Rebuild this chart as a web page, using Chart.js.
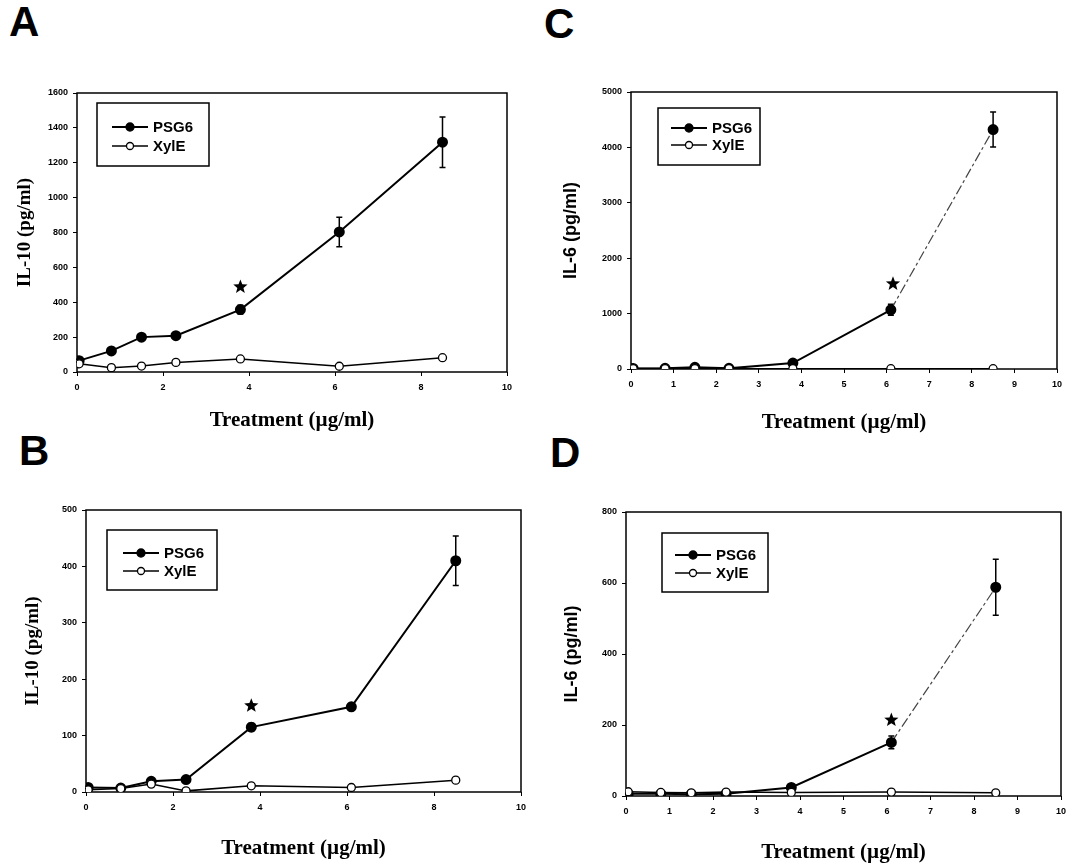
<!DOCTYPE html>
<html lang="en">
  <head>
    <meta charset="utf-8" />
    <title>IL-10 and IL-6 response to PSG6</title>
    <style>
      body {
        margin: 0;
        background-color: white;
      }
      #wrap {
        position: relative;
        width: 1074px;
        height: 868px;
      }
      .panel {
        position: absolute;
      }
      .tag {
        position: absolute;
        font: bold 42px "Liberation Sans", Arial, sans-serif;
        color: black;
        line-height: 1;
      }
    </style>
  </head>
  <body>
    <div id="wrap">
      <div class="tag" style="left: 9px; top: 1px">A</div>
      <div class="tag" style="left: 544px; top: 3px">C</div>
      <div class="tag" style="left: 19px; top: 430px">B</div>
      <div class="tag" style="left: 550px; top: 432px">D</div>
      <canvas id="chartA" class="panel" width="537" height="385" style="left: 0; top: 50px"></canvas>
      <canvas id="chartC" class="panel" width="537" height="385" style="left: 537px; top: 50px"></canvas>
      <canvas id="chartB" class="panel" width="537" height="433" style="left: 0; top: 435px"></canvas>
      <canvas id="chartD" class="panel" width="537" height="433" style="left: 537px; top: 435px"></canvas>
    </div>

    <script src="https://cdn.jsdelivr.net/npm/chart.js"></script>
    <script>
      // treatment doses (ug/ml), same for every panel
      const doses = [0.05, 0.8, 1.5, 2.3, 3.8, 6.1, 8.5];

      // A: IL-10 (pg/ml)
      const psg6A = [65, 121, 200, 208, 358, 803, 1318];
      const psg6ErrA = [8, 10, 12, 12, 25, 85, 145];
      const xyleA = [47, 25, 34, 55, 75, 33, 82];
      const starA = { x: 3.8, y: 488 };

      // C: IL-6 (pg/ml)
      const psg6C = [10, 12, 30, 12, 108, 1068, 4322];
      const psg6ErrC = [5, 5, 10, 5, 30, 100, 315];
      const xyleC = [8, 8, 8, 6, 6, 6, 6];
      const starC = { x: 6.15, y: 1537 };

      // B: IL-10 (pg/ml)
      const psg6B = [8, 7, 19, 22, 115, 151, 410];
      const psg6ErrB = [2, 2, 3, 4, 7, 6, 44];
      const xyleB = [4, 6, 14, 2, 11, 8, 21];
      const starB = { x: 3.8, y: 153 };

      // D: IL-6 (pg/ml)
      const psg6D = [6, 6, 5, 6, 24, 151, 588];
      const psg6ErrD = [2, 2, 2, 2, 5, 18, 79];
      const xyleD = [12, 10, 9, 11, 10, 11, 9];
      const starD = { x: 6.1, y: 214 };

      const pairs = (xs, ys) => xs.map((x, i) => ({ x, y: ys[i] }));

      function drawStar(ctx, cx, cy, outer, inner) {
        ctx.beginPath();
        for (let i = 0; i < 10; i++) {
          const r = i % 2 === 0 ? outer : inner;
          const a = -Math.PI / 2 + (i * Math.PI) / 5;
          const px = cx + r * Math.cos(a);
          const py = cy + r * Math.sin(a);
          if (i === 0) ctx.moveTo(px, py);
          else ctx.lineTo(px, py);
        }
        ctx.closePath();
        ctx.fill();
      }

      // frame, error bars, star and boxed legend
      const panelDeco = {
        id: "panelDeco",
        beforeDatasetsDraw(chart, args, opts) {
          const { ctx, chartArea: ca, scales } = chart;
          ctx.save();
          ctx.strokeStyle = "#000";
          ctx.lineWidth = 1.5;
          ctx.strokeRect(ca.left, ca.top, ca.right - ca.left, ca.bottom - ca.top);

          ctx.lineWidth = 1.5;
          chart.data.datasets.forEach((ds) => {
            if (!ds.errors) return;
            ds.data.forEach((p, i) => {
              const e = ds.errors[i];
              const x = scales.x.getPixelForValue(p.x);
              const yt = scales.y.getPixelForValue(p.y + e);
              const yb = scales.y.getPixelForValue(p.y - e);
              ctx.beginPath();
              ctx.moveTo(x, yt);
              ctx.lineTo(x, yb);
              ctx.moveTo(x - 3, yt);
              ctx.lineTo(x + 3, yt);
              ctx.moveTo(x - 3, yb);
              ctx.lineTo(x + 3, yb);
              ctx.stroke();
            });
          });
          ctx.restore();
        },
        afterDatasetsDraw(chart, args, opts) {
          const { ctx, chartArea: ca, scales } = chart;
          ctx.save();
          ctx.fillStyle = "#000";
          drawStar(
            ctx,
            scales.x.getPixelForValue(opts.star.x),
            scales.y.getPixelForValue(opts.star.y),
            7.5,
            3.2
          );

          const lg = opts.legend;
          const bx = ca.left + lg.left;
          const by = ca.top + lg.top;
          ctx.fillStyle = "#fff";
          ctx.fillRect(bx, by, lg.width, lg.height);
          ctx.strokeStyle = "#000";
          ctx.lineWidth = 1.5;
          ctx.strokeRect(bx, by, lg.width, lg.height);

          const items = [chart.data.datasets[1], chart.data.datasets[0]];
          ctx.font = "bold 15px 'Liberation Sans', Arial, sans-serif";
          ctx.textBaseline = "middle";
          items.forEach((ds, i) => {
            const y = by + lg.row0 + i * lg.rowGap;
            const x0 = bx + lg.lineStart;
            ctx.strokeStyle = "#000";
            ctx.lineWidth = ds.borderWidth;
            ctx.beginPath();
            ctx.moveTo(x0, y);
            ctx.lineTo(x0 + 36, y);
            ctx.stroke();
            ctx.beginPath();
            ctx.arc(x0 + 18, y, ds.pointRadius - 0.5, 0, Math.PI * 2);
            ctx.fillStyle = ds.pointBackgroundColor;
            ctx.fill();
            ctx.lineWidth = 1.3;
            ctx.stroke();
            ctx.fillStyle = "#000";
            ctx.fillText(ds.label, x0 + 41, y + 1);
          });
          ctx.restore();
        },
      };
      Chart.register(panelDeco);

      function makePanel(id, cfg) {
        const fade = (ctx, on, off) =>
          cfg.fadeLast && ctx.p0DataIndex === doses.length - 2 ? on : off;
        return new Chart(document.getElementById(id), {
          type: "line",
          data: {
            datasets: [
              {
                label: "XylE",
                data: pairs(doses, cfg.xyle),
                borderColor: "#000",
                borderWidth: 1.5,
                pointRadius: 4,
                pointBackgroundColor: "#fff",
                pointBorderColor: "#000",
                pointBorderWidth: 1.3,
                order: 0,
              },
              {
                label: "PSG6",
                data: pairs(doses, cfg.psg6),
                errors: cfg.err,
                borderColor: "#000",
                borderWidth: 2,
                pointRadius: 4.5,
                pointBackgroundColor: "#000",
                pointBorderColor: "#000",
                order: 1,
                segment: {
                  borderColor: (ctx) => fade(ctx, "#444", undefined),
                  borderWidth: (ctx) => fade(ctx, 1.2, undefined),
                  borderDash: (ctx) => fade(ctx, [10, 3, 3, 3], undefined),
                },
              },
            ],
          },
          options: {
            responsive: false,
            animation: false,
            devicePixelRatio: 1,
            layout: { padding: cfg.pad },
            scales: {
              x: {
                type: "linear",
                min: 0,
                max: 10,
                border: { display: false },
                grid: { drawOnChartArea: false, tickLength: 4, color: "#000" },
                ticks: {
                  stepSize: cfg.xStep,
                  padding: 6,
                  color: "#000",
                  font: { family: "Liberation Sans", size: 9, weight: "bold" },
                  callback: (v) => String(v),
                },
                title: {
                  display: true,
                  text: "Treatment (\u00b5g/ml)",
                  color: "#000",
                  padding: { top: 0, bottom: cfg.xTitlePad },
                  font: { family: "Liberation Serif", size: 21, weight: "bold" },
                },
                afterFit: (s) => {
                  s.height = cfg.xH;
                },
              },
              y: {
                min: 0,
                max: cfg.yMax,
                border: { display: false },
                grid: { drawOnChartArea: false, tickLength: 4, color: "#000" },
                ticks: {
                  stepSize: cfg.yStep,
                  padding: 5,
                  color: "#000",
                  font: { family: "Liberation Sans", size: 9, weight: "bold" },
                  callback: (v) => String(v),
                },
                title: {
                  display: true,
                  text: cfg.yTitle,
                  color: "#000",
                  padding: 0,
                  font: cfg.yFont,
                },
                afterFit: (s) => {
                  s.width = cfg.yW;
                },
              },
            },
            plugins: {
              legend: { display: false },
              tooltip: { enabled: false },
              panelDeco: { star: cfg.star, legend: cfg.legend },
            },
          },
        });
      }

      const serifTitle = { family: "Liberation Serif", size: 19, weight: "bold" };
      const sansTitle = { family: "Liberation Sans", size: 18, weight: "bold" };

      makePanel("chartA", {
        psg6: psg6A, err: psg6ErrA, xyle: xyleA, star: starA,
        yMax: 1600, yStep: 200, xStep: 2,
        yTitle: "IL-10 (pg/ml)", yFont: serifTitle,
        pad: { left: 14, top: 43, right: 30, bottom: 0 },
        yW: 63, xH: 63, xTitlePad: 2,
        legend: { left: 20, top: 10, width: 112, height: 63, row0: 24, rowGap: 19, lineStart: 15 },
      });
      makePanel("chartC", {
        psg6: psg6C, err: psg6ErrC, xyle: xyleC, star: starC, fadeLast: true,
        yMax: 5000, yStep: 1000, xStep: 1,
        yTitle: "IL-6 (pg/ml)", yFont: sansTitle,
        pad: { left: 23, top: 42, right: 17, bottom: 0 },
        yW: 71, xH: 66, xTitlePad: 0,
        legend: { left: 27, top: 16, width: 102, height: 57, row0: 20, rowGap: 17, lineStart: 13 },
      });
      makePanel("chartB", {
        psg6: psg6B, err: psg6ErrB, xyle: xyleB, star: starB,
        yMax: 500, yStep: 100, xStep: 2,
        yTitle: "IL-10 (pg/ml)", yFont: serifTitle,
        pad: { left: 22, top: 75, right: 16, bottom: 0 },
        yW: 64, xH: 76, xTitlePad: 7,
        legend: { left: 21, top: 20, width: 110, height: 60, row0: 23, rowGap: 18, lineStart: 16 },
      });
      makePanel("chartD", {
        psg6: psg6D, err: psg6ErrD, xyle: xyleD, star: starD, fadeLast: true,
        yMax: 800, yStep: 200, xStep: 1,
        yTitle: "IL-6 (pg/ml)", yFont: sansTitle,
        pad: { left: 24, top: 77, right: 13, bottom: 0 },
        yW: 65, xH: 72, xTitlePad: 3,
        legend: { left: 36, top: 21, width: 106, height: 59, row0: 22, rowGap: 18, lineStart: 13 },
      });
    </script>
  </body>
</html>
